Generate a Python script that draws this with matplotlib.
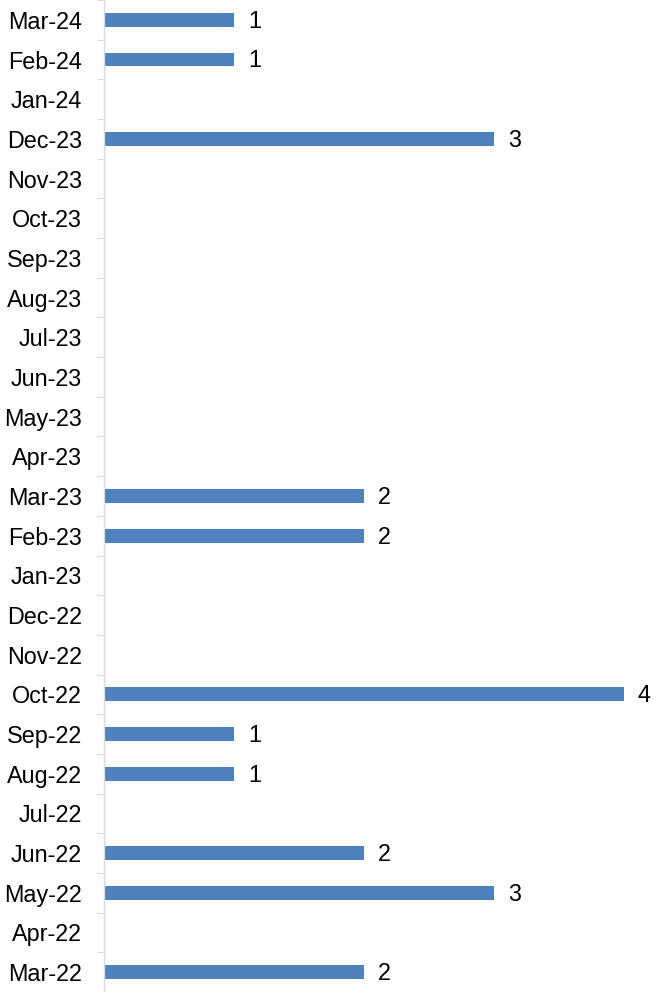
import matplotlib.pyplot as plt
import numpy as np

# months from Mar-22 (bottom) to Mar-24 (top)
months = ["Mar-22", "Apr-22", "May-22", "Jun-22", "Jul-22", "Aug-22", "Sep-22",
          "Oct-22", "Nov-22", "Dec-22", "Jan-23", "Feb-23", "Mar-23", "Apr-23",
          "May-23", "Jun-23", "Jul-23", "Aug-23", "Sep-23", "Oct-23", "Nov-23",
          "Dec-23", "Jan-24", "Feb-24", "Mar-24"]
counts = [2, 0, 3, 2, 0, 1, 1,
          4, 0, 0, 0, 2, 2, 0,
          0, 0, 0, 0, 0, 0, 0,
          3, 0, 1, 1]

plt.rcParams['font.family'] = ['Liberation Sans', 'DejaVu Sans']

fig = plt.figure(figsize=(6.61, 9.92), dpi=100)
ax = fig.add_axes([104 / 661, 0, 1 - 104 / 661, 1])

y = np.arange(len(months))
ax.barh(y, counts, height=0.35, color='#4F81BD')

# data labels only for non-empty months
for yi, v in zip(y, counts):
    if v > 0:
        ax.annotate(str(v), xy=(v, yi), xytext=(10, -1), textcoords='offset points',
                    ha='left', va='center', fontsize=16.8, color='black')

ax.set_xlim(0, (661 - 104) / 130)
ax.set_ylim(-0.5, 24.43)

ax.set_yticks(y)
ax.set_yticklabels(months, fontsize=16.8)
ax.set_yticks(np.arange(-0.5, len(months), 1), minor=True)
ax.tick_params(axis='y', which='major', length=0, pad=16)
ax.tick_params(axis='y', which='minor', length=5, width=0.75, color='#D9D9D9')
ax.set_xticks([])

for side in ['top', 'right', 'bottom']:
    ax.spines[side].set_visible(False)
ax.spines['left'].set_color('#D9D9D9')
ax.spines['left'].set_linewidth(1)

fig.savefig('out.png', dpi=100)
